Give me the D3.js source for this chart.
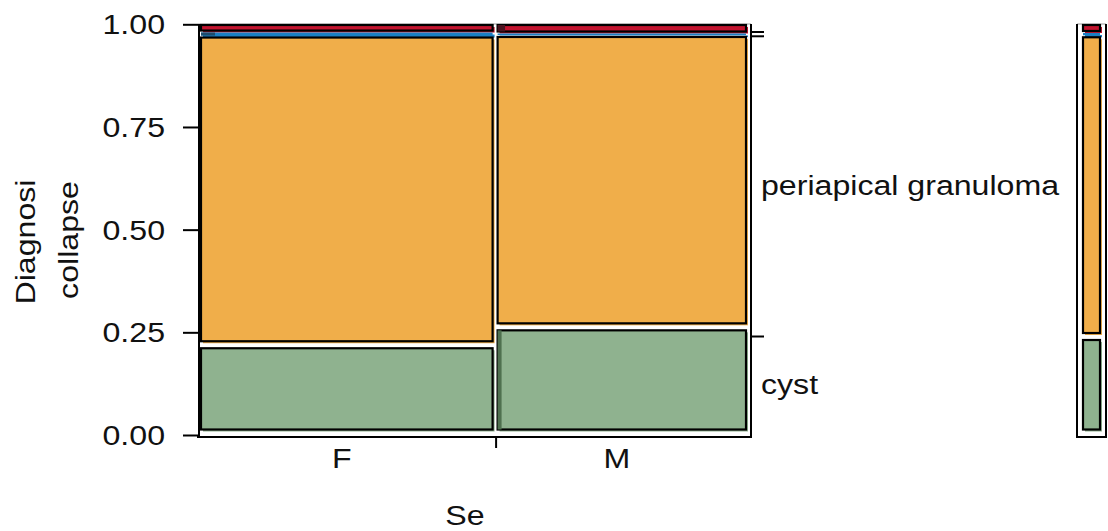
<!DOCTYPE html>
<html>
<head>
<meta charset="utf-8">
<script src="https://cdn.jsdelivr.net/npm/d3@7"></script>
<style>
  html, body { margin: 0; padding: 0; background: #fff; }
  svg { display: block; }
  text { font-family: "Liberation Sans", Arial, Helvetica, sans-serif; fill: #111; }
</style>
</head>
<body>
<svg id="chart" width="1108" height="531"></svg>
<script>
// Sex groups (column widths) and diagnosis shares within each group
const sexLevels = ["F", "M"];
const sexShare = [0.54, 0.46];
const diagLevels = ["cyst", "periapical granuloma", "other", "abscess"];
const diagColors = ["#8fb28f", "#f0ae4a", "#1a7fc3", "#c3142f"];
const diagShareF = [0.2065, 0.7718, 0.0076, 0.0141];
const diagShareM = [0.2520, 0.7277, 0.0038, 0.0165];
const yTicks = [0, 0.25, 0.5, 0.75, 1];

// small darker sub-strips drawn at the left edge of some tiles
const accentSex = ["F", "M", "M"];
const accentDiag = ["other", "cyst", "abscess"];
const accentShare = [0.048, 0.016, 0.03];
const accentColor = ["#1d4c6c", "#4f704f", "#4a1420"];

const svg = d3.select("#chart");
const FONT = 27, STRETCH = 1.19;
const BASE = FONT * 0.358;
const shares = [diagShareF, diagShareM];

// scales
const colGap = 5;
const xm = d3.scaleLinear().domain([0, 1]).range([201, 746 - colGap]);
const rowGaps = [7, 2, 2];
const gapTotal = d3.sum(rowGaps);
const ym = d3.scaleLinear().domain([0, 1]).range([429.5, 25 + gapTotal]);
const ya = d3.scaleLinear().domain([0, 1]).range([435, 24.3]);

function stackRows(vals) {
  let cum = 0;
  return vals.map((v, j) => {
    const gapBelow = d3.sum(rowGaps.slice(0, j));
    const y0 = ym(cum) - gapBelow;          // bottom
    const y1 = ym(cum + v) - gapBelow;      // top
    cum += v;
    return { j, v, top: y1, bottom: y0, h: y0 - y1 };
  });
}

function drawTile(g, x, w, r, color) {
  g.append("rect")
    .attr("x", x + 2).attr("y", r.top + 2)
    .attr("width", w).attr("height", r.h)
    .attr("fill", color);
  g.append("rect")
    .attr("x", x).attr("y", r.top)
    .attr("width", w).attr("height", r.h)
    .attr("fill", color)
    .attr("stroke", r.h < 4 ? "none" : "#000")
    .attr("stroke-width", 2.2);
}

// panel frame
const P = { l: 199, r: 751, t: 24, b: 437 };
svg.append("line").attr("x1", P.l).attr("x2", P.r).attr("y1", P.t).attr("y2", P.t)
  .attr("stroke", "#bdbdbd").attr("stroke-width", 1.5);

// mosaic tiles
const tiles = svg.append("g");
let cumX = 0;
const colInfo = [];
sexLevels.forEach((s, i) => {
  const x0 = xm(cumX) + i * colGap;
  const w = xm(cumX + sexShare[i]) - xm(cumX);
  cumX += sexShare[i];
  colInfo.push({ s, x0, w });
  const rows = stackRows(shares[i]);
  rows.slice().reverse().forEach(r => drawTile(tiles, x0, w, r, diagColors[r.j]));
  accentSex.forEach((as, k) => {
    if (as !== s) return;
    const r = rows[diagLevels.indexOf(accentDiag[k])];
    tiles.append("rect")
      .attr("x", x0).attr("y", r.top)
      .attr("width", w * accentShare[k]).attr("height", r.h)
      .attr("fill", accentColor[k]);
  });
});

// axes lines
svg.append("line").attr("x1", P.l).attr("x2", P.l).attr("y1", P.t).attr("y2", P.b)
  .attr("stroke", "#000").attr("stroke-width", 2);
svg.append("line").attr("x1", P.l - 2).attr("x2", P.r + 1).attr("y1", P.b).attr("y2", P.b)
  .attr("stroke", "#000").attr("stroke-width", 2);
svg.append("line").attr("x1", P.r).attr("x2", P.r).attr("y1", P.t).attr("y2", P.b)
  .attr("stroke", "#000").attr("stroke-width", 2);

// left axis
const yAxis = d3.axisLeft(ya).tickValues(yTicks).tickFormat(d3.format(".2f")).tickSize(16).tickPadding(0);
const gy = svg.append("g").attr("transform", `translate(${P.l},0)`).call(yAxis);
gy.select(".domain").remove();
gy.selectAll(".tick line").attr("stroke", "#000").attr("stroke-width", 2);
gy.selectAll(".tick text")
  .attr("x", null).attr("dy", null)
  .attr("font-size", FONT).attr("fill", "#111")
  .attr("text-anchor", "end")
  .attr("transform", `translate(-34,${BASE}) scale(${STRETCH},1)`);

// bottom axis: ticks between columns, labels at column centres
colInfo.slice(1).forEach(c => {
  svg.append("line").attr("x1", c.x0 - colGap / 2 + 1).attr("x2", c.x0 - colGap / 2 + 1)
    .attr("y1", P.b).attr("y2", P.b + 11).attr("stroke", "#000").attr("stroke-width", 2);
});
colInfo.forEach(c => {
  svg.append("text")
    .attr("transform", `translate(${c.x0 + c.w / 2 - 5},468) scale(${STRETCH},1)`)
    .attr("text-anchor", "middle").attr("font-size", FONT).text(c.s);
});

// marginal distribution of diagnosis
const margin = diagLevels.map((d, j) => d3.sum(sexLevels, (s, i) => sexShare[i] * shares[i][j]));
const mRows = stackRows(margin);

// right axis ticks at boundaries, labels at segment centres
mRows.slice(0, -1).forEach((r, j) => {
  const yb = (r.top + mRows[j + 1].bottom) / 2;
  svg.append("line").attr("x1", P.r).attr("x2", P.r + 13).attr("y1", yb).attr("y2", yb)
    .attr("stroke", "#000").attr("stroke-width", 2);
});
mRows.forEach(r => {
  if (r.h < 20) return;
  svg.append("text")
    .attr("transform", `translate(761,${(r.top + r.bottom) / 2 + BASE}) scale(${STRETCH},1)`)
    .attr("font-size", FONT).text(diagLevels[r.j]);
});

// marginal bar
const MB = { l: 1077, r: 1106, x: 1083, w: 17 };
svg.append("line").attr("x1", MB.l).attr("x2", MB.r).attr("y1", P.t).attr("y2", P.t)
  .attr("stroke", "#bdbdbd").attr("stroke-width", 1.5);
const mg = svg.append("g");
mRows.slice().reverse().forEach(r => drawTile(mg, MB.x, MB.w, r, diagColors[r.j]));
svg.append("path")
  .attr("d", `M${MB.l},${P.t}V${P.b}H${MB.r}V${P.t}`)
  .attr("fill", "none").attr("stroke", "#000").attr("stroke-width", 2);

// axis titles
svg.append("text")
  .attr("transform", `translate(465,525) scale(${STRETCH},1)`)
  .attr("text-anchor", "middle").attr("font-size", FONT).text("Se");
svg.append("text")
  .attr("transform", `translate(35,242) rotate(-90) scale(${STRETCH},1)`)
  .attr("text-anchor", "middle").attr("font-size", FONT).text("Diagnosi");
svg.append("text")
  .attr("transform", `translate(78,240) rotate(-90) scale(${STRETCH},1)`)
  .attr("text-anchor", "middle").attr("font-size", FONT).text("collapse");
</script>
</body>
</html>
